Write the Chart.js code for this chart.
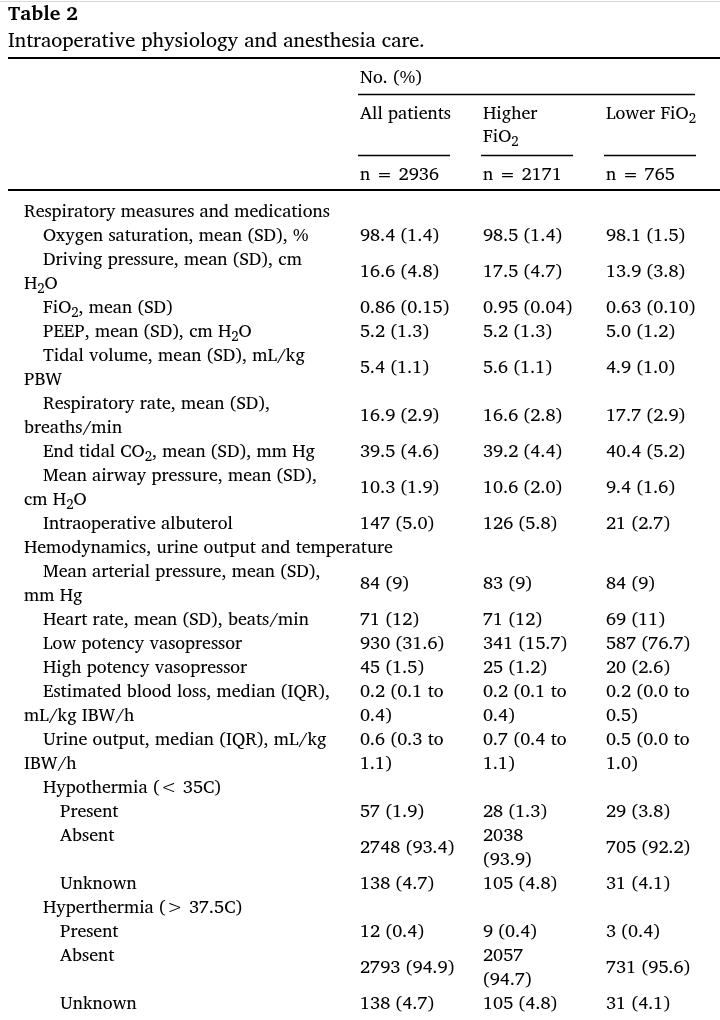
<!DOCTYPE html>
<html>
<head>
<meta charset="utf-8">
<script src="https://cdn.jsdelivr.net/npm/chart.js@4"></script>
<style>
  html, body { margin: 0; background: #fff; }
  canvas { display: block; }
</style>
</head>
<body>
<canvas id="tabla" width="720" height="1020"></canvas>
<script>
// Textos y valores de la tabla ("_2" = subíndice, "|" = salto de línea)
const tableTitle = 'Table 2';
const tableCaption = 'Intraoperative physiology and anesthesia care.';
const groupHeader = 'No. (%)';
const columnNames = ['All patients', 'Higher|FiO_2', 'Lower FiO_2'];
const columnCounts = ['n = 2936', 'n = 2171', 'n = 765'];

const rowLabels = [
  'Respiratory measures and medications',
  'Oxygen saturation, mean (SD), %',
  'Driving pressure, mean (SD), cm|H_2O',
  'FiO_2, mean (SD)',
  'PEEP, mean (SD), cm H_2O',
  'Tidal volume, mean (SD), mL/kg|PBW',
  'Respiratory rate, mean (SD),|breaths/min',
  'End tidal CO_2, mean (SD), mm Hg',
  'Mean airway pressure, mean (SD),|cm H_2O',
  'Intraoperative albuterol',
  'Hemodynamics, urine output and temperature',
  'Mean arterial pressure, mean (SD),|mm Hg',
  'Heart rate, mean (SD), beats/min',
  'Low potency vasopressor',
  'High potency vasopressor',
  'Estimated blood loss, median (IQR),|mL/kg IBW/h',
  'Urine output, median (IQR), mL/kg|IBW/h',
  'Hypothermia (< 35C)',
  'Present',
  'Absent',
  'Unknown',
  'Hyperthermia (> 37.5C)',
  'Present',
  'Absent',
  'Unknown'
];
const rowIndent = [0, 1, 1, 1, 1, 1, 1, 1, 1, 1, 0, 1, 1, 1, 1, 1, 1, 1, 2, 2, 2, 1, 2, 2, 2];

const allPatients = ['', '98.4 (1.4)', '16.6 (4.8)', '0.86 (0.15)', '5.2 (1.3)', '5.4 (1.1)',
  '16.9 (2.9)', '39.5 (4.6)', '10.3 (1.9)', '147 (5.0)', '', '84 (9)', '71 (12)', '930 (31.6)',
  '45 (1.5)', '0.2 (0.1 to|0.4)', '0.6 (0.3 to|1.1)', '', '57 (1.9)', '2748 (93.4)', '138 (4.7)',
  '', '12 (0.4)', '2793 (94.9)', '138 (4.7)'];
const higherFiO2 = ['', '98.5 (1.4)', '17.5 (4.7)', '0.95 (0.04)', '5.2 (1.3)', '5.6 (1.1)',
  '16.6 (2.8)', '39.2 (4.4)', '10.6 (2.0)', '126 (5.8)', '', '83 (9)', '71 (12)', '341 (15.7)',
  '25 (1.2)', '0.2 (0.1 to|0.4)', '0.7 (0.4 to|1.1)', '', '28 (1.3)', '2038|(93.9)', '105 (4.8)',
  '', '9 (0.4)', '2057|(94.7)', '105 (4.8)'];
const lowerFiO2 = ['', '98.1 (1.5)', '13.9 (3.8)', '0.63 (0.10)', '5.0 (1.2)', '4.9 (1.0)',
  '17.7 (2.9)', '40.4 (5.2)', '9.4 (1.6)', '21 (2.7)', '', '84 (9)', '69 (11)', '587 (76.7)',
  '20 (2.6)', '0.2 (0.0 to|0.5)', '0.5 (0.0 to|1.0)', '', '29 (3.8)', '705 (92.2)', '31 (4.1)',
  '', '3 (0.4)', '731 (95.6)', '31 (4.1)'];

// Estilo / maquetación
const FONT = '"Charis SIL", "DejaVu Serif", serif';
const indentPx = [24, 43, 60];
const wrapPx = 24;
const pos = { title: -8.25, caption: -7.125, topRule: -6.375, group: -5.583, groupRule: -4.875,
  colName: -4.083, colRule: -2.333, count: -1.54, headRule: -0.875 };

// líneas que ocupa cada fila
const nLines = s => (s ? s.split('|').length : 1);
const rowTop = [];
const rowSpan = [];
let linea = 0;
rowLabels.forEach((lab, i) => {
  const span = Math.max(nLines(lab), nLines(allPatients[i]), nLines(higherFiO2[i]), nLines(lowerFiO2[i]));
  rowTop.push(linea);
  rowSpan.push(span);
  linea += span;
});

let sizes = null;
function fitSizes(ctx) {
  const fit = (txt, w, weight) => {
    ctx.font = weight + ' 100px ' + FONT;
    return 100 * w / ctx.measureText(txt).width;
  };
  return {
    body: fit('Respiratory measures and medications', 306, 'normal'),
    caption: fit(tableCaption, 417, 'normal'),
    title: fit(tableTitle, 70, 'bold')
  };
}

function drawRich(ctx, text, x, yc, size, weight) {
  const base = yc + 0.34 * size;
  const parts = text.split(/_(\d)/);
  ctx.textAlign = 'left';
  ctx.textBaseline = 'alphabetic';
  let cx = x;
  parts.forEach((p, k) => {
    if (!p) return;
    if (k % 2 === 1) {
      ctx.font = weight + ' ' + (size * 0.72) + 'px ' + FONT;
      ctx.fillText(p, cx, base + 0.2 * size);
    } else {
      ctx.font = weight + ' ' + size + 'px ' + FONT;
      ctx.fillText(p, cx, base);
    }
    cx += ctx.measureText(p).width;
  });
}

function rule(ctx, x1, x2, y, w) {
  ctx.beginPath();
  ctx.lineWidth = w;
  ctx.strokeStyle = '#000';
  ctx.moveTo(x1, y);
  ctx.lineTo(x2, y);
  ctx.stroke();
}

const tablaPlugin = {
  id: 'tabla',
  beforeDraw(chart) {
    const ctx = chart.ctx;
    ctx.save();
    ctx.fillStyle = '#fff';
    ctx.fillRect(0, 0, chart.width, chart.height);
    ctx.restore();
  },
  afterDatasetsDraw(chart) {
    const ctx = chart.ctx;
    const ys = chart.scales.y;
    const xs = chart.scales.x;
    const area = chart.chartArea;
    if (!sizes) sizes = fitSizes(ctx);
    const fs = sizes.body;
    ctx.save();
    ctx.fillStyle = '#000';

    // borde gris superior
    ctx.beginPath();
    ctx.lineWidth = 1;
    ctx.strokeStyle = '#d8d8d8';
    ctx.moveTo(area.left, 1.5);
    ctx.lineTo(area.right, 1.5);
    ctx.stroke();

    // título
    drawRich(ctx, tableTitle, 8, ys.getPixelForValue(pos.title), sizes.title, 'bold');
    drawRich(ctx, tableCaption, 8, ys.getPixelForValue(pos.caption), sizes.caption, 'normal');

    // cabecera
    const c1 = xs.getPixelForValue(1);
    const c3 = xs.getPixelForValue(3);
    rule(ctx, 8, area.right, Math.round(ys.getPixelForValue(pos.topRule)), 2);
    drawRich(ctx, groupHeader, c1, ys.getPixelForValue(pos.group), fs, 'normal');
    rule(ctx, c1 - 2, c3 + 89, Math.round(ys.getPixelForValue(pos.groupRule)) + 0.5, 1.3);
    columnNames.forEach((name, c) => {
      const x = xs.getPixelForValue(c + 1);
      name.split('|').forEach((t, j) => {
        drawRich(ctx, t, x, ys.getPixelForValue(pos.colName + j * 0.96), fs, 'normal');
      });
      rule(ctx, x - 2, x + 90, Math.round(ys.getPixelForValue(pos.colRule)) + 0.5, 1.3);
      drawRich(ctx, columnCounts[c], x, ys.getPixelForValue(pos.count), fs, 'normal');
    });
    rule(ctx, 8, area.right, Math.round(ys.getPixelForValue(pos.headRule)), 2);

    // etiquetas de fila
    rowLabels.forEach((lab, i) => {
      lab.split('|').forEach((t, j) => {
        const x = j === 0 ? indentPx[rowIndent[i]] : wrapPx;
        drawRich(ctx, t, x, ys.getPixelForValue(rowTop[i] + j), fs, 'normal');
      });
    });

    // celdas de valores
    chart.data.datasets.forEach((ds, d) => {
      chart.getDatasetMeta(d).data.forEach((el, k) => {
        const raw = ds.data[k];
        if (!raw.text) return;
        const lines = raw.text.split('|');
        lines.forEach((t, j) => {
          const y = ys.getPixelForValue(raw.y + j - (lines.length - 1) / 2);
          drawRich(ctx, t, el.x, y, fs, 'normal');
        });
      });
    });
    ctx.restore();
  }
};

const columnas = [allPatients, higherFiO2, lowerFiO2];

new Chart(document.getElementById('tabla'), {
  type: 'scatter',
  data: {
    datasets: columnas.map((vals, c) => ({
      label: columnNames[c],
      data: vals.map((v, i) => ({ x: c + 1, y: rowTop[i] + (rowSpan[i] - 1) / 2, text: v })),
      pointRadius: 0,
      pointHoverRadius: 0
    }))
  },
  options: {
    responsive: false,
    animation: false,
    events: [],
    layout: { padding: 0 },
    plugins: { legend: { display: false }, tooltip: { enabled: false } },
    scales: {
      x: { type: 'linear', display: false, min: 1 - 360 / 123, max: 1 + 360 / 123 },
      y: { type: 'linear', display: false, reverse: true, min: -211 / 24, max: (1020 - 211) / 24 }
    }
  },
  plugins: [tablaPlugin]
});
</script>
</body>
</html>
